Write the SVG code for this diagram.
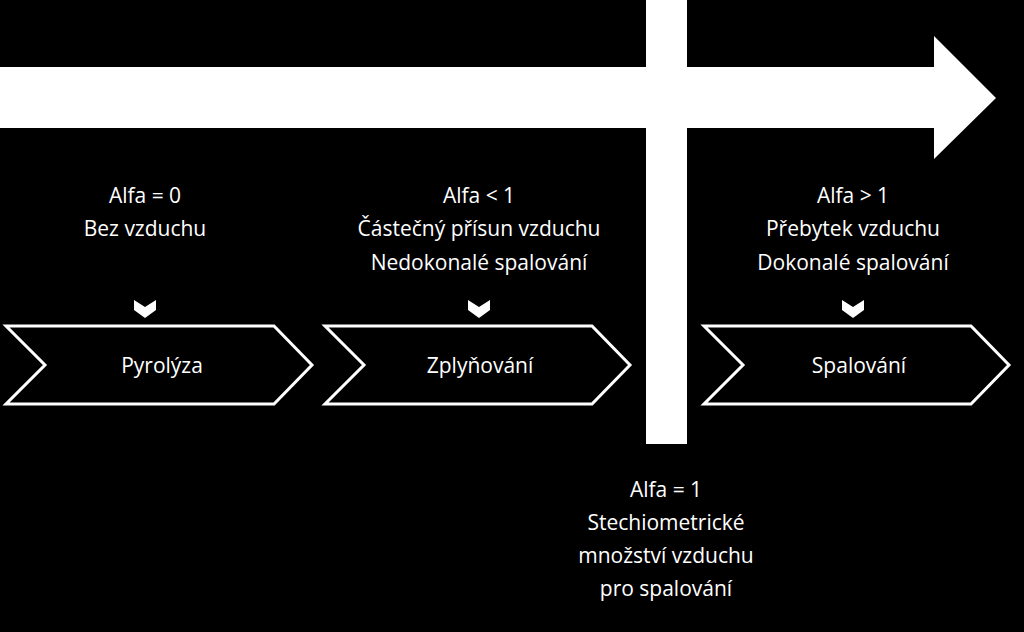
<svg xmlns="http://www.w3.org/2000/svg" width="1024" height="632" viewBox="0 0 1024 632">
<style>
text{font-family:"Open Sans","Liberation Sans",sans-serif;font-size:21px;fill:#fff;text-anchor:middle}
.chev{fill:#000;stroke:#fff;stroke-width:3}
.mark{fill:#fff}
</style>
<rect width="1024" height="632" fill="#000"/>
<g id="connectors">
<polygon points="0,67 934,67 934,36 996,98 934,159 934,128 0,128" fill="#fff"/>
<rect x="646" y="0" width="41" height="444" fill="#fff"/>
</g>
<g id="pyrolyza">
<text x="145" y="203">Alfa = 0</text>
<text x="145" y="236">Bez vzduchu</text>
<path class="mark" d="M134,300 L145,307 L156,300 L156,310 L145,318 L134,310 Z"/>
<polygon class="chev" points="6,326 274,326 312,365 274,404 6,404 45,365"/>
<text x="162" y="373">Pyrolýza</text>
</g>
<g id="zplynovani">
<text x="479" y="203">Alfa &lt; 1</text>
<text x="479" y="236">Částečný přísun vzduchu</text>
<text x="479" y="270">Nedokonalé spalování</text>
<path class="mark" d="M468,300 L479,307 L490,300 L490,310 L479,318 L468,310 Z"/>
<polygon class="chev" points="325,326 592,326 630,365 592,404 325,404 364,365"/>
<text x="480" y="373">Zplyňování</text>
</g>
<g id="spalovani">
<text x="853" y="203">Alfa &gt; 1</text>
<text x="853" y="236">Přebytek vzduchu</text>
<text x="853" y="270">Dokonalé spalování</text>
<path class="mark" d="M842,300 L853,307 L864,300 L864,310 L853,318 L842,310 Z"/>
<polygon class="chev" points="704,326 971,326 1009,365 971,404 704,404 743,365"/>
<text x="859" y="373">Spalování</text>
</g>
<g id="stechiometrie">
<text x="666" y="497">Alfa = 1</text>
<text x="666" y="530">Stechiometrické</text>
<text x="666" y="563">množství vzduchu</text>
<text x="666" y="596">pro spalování</text>
</g>
</svg>
